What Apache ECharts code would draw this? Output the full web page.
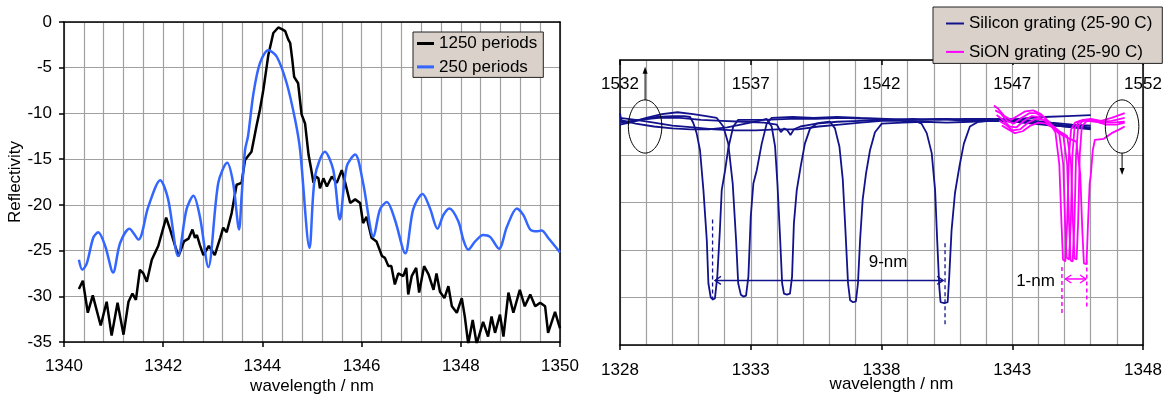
<!DOCTYPE html>
<html>
<head>
<meta charset="utf-8">
<script src="https://cdn.jsdelivr.net/npm/echarts@6/dist/echarts.min.js"></script>
<style>
html,body{margin:0;padding:0;background:#fff;}
#main{width:1166px;height:396px;}
</style>
</head>
<body>
<div id="main"></div>
<script>
// ---- left plot : reflectivity (dB) vs wavelength (nm) ----
var refl1250 = [[1340.30,-29.2],[1340.38,-28.3],[1340.48,-31.8],[1340.58,-29.9],[1340.74,-33.2],[1340.86,-30.6],[1340.96,-34.3],[1341.08,-30.7],[1341.20,-34.2],[1341.30,-30.6],[1341.38,-29.7],[1341.45,-30.4],[1341.53,-27.1],[1341.60,-27.5],[1341.67,-28.4],[1341.77,-26.0],[1341.90,-24.5],[1342.06,-21.4],[1342.14,-22.7],[1342.24,-24.5],[1342.31,-25.6],[1342.42,-24.0],[1342.51,-23.7],[1342.59,-22.7],[1342.64,-23.6],[1342.68,-23.3],[1342.74,-24.4],[1342.81,-25.5],[1342.92,-24.5],[1343.04,-25.5],[1343.15,-23.6],[1343.21,-22.5],[1343.28,-23.0],[1343.38,-20.9],[1343.48,-17.8],[1343.58,-17.6],[1343.65,-15.1],[1343.72,-14.6],[1343.78,-14.2],[1343.88,-11.4],[1343.95,-9.6],[1344.02,-7.4],[1344.12,-3.6],[1344.22,-1.2],[1344.32,-0.6],[1344.40,-0.8],[1344.46,-1.0],[1344.52,-1.9],[1344.56,-2.3],[1344.60,-4.0],[1344.64,-6.0],[1344.72,-6.7],[1344.79,-10.1],[1344.86,-11.1],[1344.93,-14.5],[1344.98,-16.0],[1345.03,-17.6],[1345.08,-16.9],[1345.13,-17.1],[1345.16,-18.2],[1345.23,-17.1],[1345.30,-18.0],[1345.40,-16.9],[1345.50,-17.6],[1345.60,-16.2],[1345.67,-17.6],[1345.77,-19.8],[1345.87,-19.4],[1345.97,-19.8],[1346.03,-22.0],[1346.10,-21.3],[1346.20,-23.6],[1346.30,-24.0],[1346.41,-25.6],[1346.47,-25.8],[1346.54,-26.7],[1346.60,-26.7],[1346.67,-28.7],[1346.74,-27.5],[1346.84,-27.8],[1346.90,-26.9],[1346.94,-29.8],[1347.01,-27.8],[1347.10,-26.9],[1347.16,-29.6],[1347.26,-26.7],[1347.35,-27.6],[1347.45,-29.3],[1347.51,-27.5],[1347.58,-29.5],[1347.67,-30.2],[1347.75,-28.9],[1347.82,-31.1],[1347.92,-31.8],[1348.02,-30.2],[1348.08,-32.2],[1348.15,-35.2],[1348.24,-32.6],[1348.32,-35.2],[1348.45,-32.8],[1348.55,-34.4],[1348.62,-32.2],[1348.69,-34.0],[1348.79,-32.0],[1348.86,-34.4],[1348.96,-29.6],[1349.06,-31.8],[1349.19,-29.3],[1349.29,-31.1],[1349.40,-29.8],[1349.50,-31.1],[1349.60,-30.7],[1349.70,-31.1],[1349.76,-34.0],[1349.90,-31.7],[1350.00,-33.5]];

var refl250 = [[1340.30,-26.0],[1340.37,-27.1],[1340.46,-26.4],[1340.59,-23.6],[1340.69,-23.0],[1340.83,-24.5],[1340.99,-27.4],[1341.13,-24.2],[1341.32,-22.6],[1341.50,-23.8],[1341.70,-20.2],[1341.94,-17.3],[1342.10,-19.4],[1342.30,-25.6],[1342.47,-20.5],[1342.61,-19.0],[1342.74,-21.3],[1342.91,-26.8],[1343.11,-17.6],[1343.29,-15.4],[1343.41,-17.6],[1343.53,-22.7],[1343.58,-19.1],[1343.65,-14.0],[1343.71,-12.5],[1343.82,-7.8],[1343.95,-4.5],[1344.12,-3.1],[1344.29,-3.8],[1344.49,-6.7],[1344.66,-10.7],[1344.76,-14.0],[1344.95,-24.7],[1345.06,-16.9],[1345.26,-14.2],[1345.43,-16.2],[1345.56,-21.6],[1345.70,-15.8],[1345.87,-14.5],[1346.03,-17.6],[1346.24,-23.5],[1346.37,-20.5],[1346.51,-19.7],[1346.67,-21.6],[1346.88,-25.3],[1347.04,-20.5],[1347.23,-18.8],[1347.38,-20.4],[1347.53,-22.6],[1347.65,-21.1],[1347.77,-20.4],[1347.95,-21.8],[1348.05,-23.8],[1348.15,-24.9],[1348.29,-24.0],[1348.45,-23.3],[1348.59,-23.5],[1348.77,-24.8],[1348.93,-22.4],[1349.13,-20.4],[1349.26,-21.1],[1349.40,-22.7],[1349.53,-22.9],[1349.63,-22.8],[1349.76,-23.6],[1350.00,-25.2]];

// ---- right plot : transmission (arb. dB) ----
// silicon grating, bottom axis (nm), one trace per temperature
var siCurve1 = [[1328.00,-5.6],[1328.05,-6.4],[1328.3,-6.6],[1328.8,-6.3],[1329.4,-6.0],[1330.0,-5.9],[1330.45,-5.9],[1330.68,-6.0],[1330.80,-6.6],[1330.93,-7.7],[1331.06,-9.5],[1331.19,-13.7],[1331.32,-19.0],[1331.38,-23.5],[1331.47,-25.0],[1331.55,-25.2],[1331.63,-25.1],[1331.72,-22.8],[1331.82,-17.9],[1331.89,-13.7],[1332.02,-11.6],[1332.14,-9.3],[1332.33,-7.0],[1332.52,-6.3],[1333.5,-6.3],[1334.5,-6.2],[1335.5,-6.2],[1336.5,-6.1],[1337.5,-6.2],[1338.5,-6.3],[1339.5,-6.3],[1340.5,-6.2],[1341.5,-6.3],[1342.5,-6.2],[1343.5,-6.3],[1344.5,-6.6],[1345.3,-6.8],[1346.0,-6.9]];
var siCurve2 = [[1328.0,-6.8],[1328.5,-6.5],[1329.0,-6.1],[1329.6,-5.7],[1330.2,-5.5],[1330.8,-5.7],[1331.3,-5.9],[1331.70,-6.1],[1331.95,-7.0],[1332.14,-8.8],[1332.31,-13.0],[1332.44,-19.0],[1332.52,-23.5],[1332.62,-24.7],[1332.72,-24.9],[1332.82,-24.8],[1332.91,-22.8],[1333.00,-16.5],[1333.10,-13.0],[1333.23,-11.6],[1333.42,-8.8],[1333.61,-6.7],[1333.80,-6.1],[1334.6,-6.0],[1335.4,-6.1],[1336.3,-6.0],[1337.2,-6.1],[1338.2,-6.2],[1339.2,-6.3],[1340.2,-6.2],[1341.2,-6.4],[1342.2,-6.3],[1343.2,-6.2],[1344.2,-6.0],[1345.1,-5.9],[1346.0,-5.8]];
var siCurve3 = [[1328.0,-6.3],[1328.6,-6.7],[1329.3,-7.0],[1330.0,-7.2],[1330.7,-7.3],[1331.4,-7.3],[1332.1,-7.1],[1332.8,-6.7],[1333.3,-6.4],[1333.61,-6.2],[1333.80,-7.0],[1333.93,-9.1],[1334.02,-13.0],[1334.12,-18.6],[1334.20,-23.5],[1334.27,-24.6],[1334.38,-24.7],[1334.50,-24.6],[1334.58,-22.8],[1334.65,-17.2],[1334.76,-13.7],[1334.91,-11.2],[1335.07,-8.8],[1335.27,-7.2],[1335.52,-6.7],[1336.3,-6.5],[1337.2,-6.4],[1338.2,-6.3],[1339.2,-6.2],[1340.2,-6.3],[1341.2,-6.2],[1342.2,-6.2],[1343.2,-6.4],[1344.2,-6.6],[1345.1,-6.9],[1346.0,-7.1]];
var siCurve4 = [[1328.0,-6.6],[1328.7,-6.3],[1329.5,-6.1],[1330.3,-6.1],[1331.1,-6.3],[1331.9,-6.4],[1332.7,-6.5],[1333.5,-6.6],[1334.0,-6.8],[1334.15,-7.6],[1334.28,-7.2],[1334.4,-7.4],[1334.52,-7.9],[1334.65,-7.3],[1334.9,-7.0],[1335.3,-6.8],[1335.7,-6.6],[1336.03,-6.5],[1336.22,-7.2],[1336.39,-9.1],[1336.52,-12.6],[1336.62,-17.9],[1336.72,-23.5],[1336.80,-25.3],[1336.91,-25.5],[1337.02,-25.4],[1337.10,-23.5],[1337.18,-19.0],[1337.28,-14.7],[1337.41,-11.9],[1337.56,-9.5],[1337.75,-7.6],[1338.01,-6.7],[1338.8,-6.6],[1339.6,-6.5],[1340.5,-6.6],[1341.4,-6.5],[1342.3,-6.4],[1343.2,-6.5],[1344.1,-6.7],[1345.0,-7.0],[1346.0,-7.3]];
var siCurve5 = [[1328.0,-6.1],[1328.6,-6.3],[1329.3,-6.6],[1330.0,-6.9],[1330.8,-7.1],[1331.6,-7.3],[1332.4,-7.4],[1333.2,-7.4],[1334.0,-7.3],[1334.8,-7.3],[1335.6,-7.0],[1336.4,-6.8],[1337.2,-6.6],[1338.0,-6.4],[1338.7,-6.4],[1339.35,-6.5],[1339.53,-6.7],[1339.73,-7.7],[1339.92,-9.8],[1340.05,-13.7],[1340.13,-19.0],[1340.21,-23.9],[1340.26,-25.5],[1340.40,-25.6],[1340.53,-25.5],[1340.59,-22.8],[1340.68,-17.9],[1340.81,-14.0],[1340.98,-11.2],[1341.15,-8.8],[1341.38,-7.0],[1341.70,-6.5],[1342.4,-6.3],[1343.1,-6.5],[1343.8,-6.7],[1344.5,-6.9],[1345.2,-7.0],[1346.0,-7.2]];

// SiON grating, top axis (nm)
var sionCurve1 = [[1546.30,-4.8],[1546.45,-5.1],[1546.7,-5.9],[1546.95,-6.3],[1547.2,-5.9],[1547.5,-5.4],[1547.8,-5.3],[1548.1,-5.7],[1548.4,-6.5],[1548.65,-7.6],[1548.8,-11.0],[1548.88,-17.0],[1548.94,-21.0],[1549.03,-21.2],[1549.10,-17.0],[1549.17,-10.0],[1549.25,-7.3],[1549.4,-6.6],[1549.7,-6.3],[1550.0,-6.2],[1550.4,-6.4],[1550.8,-6.1],[1551.3,-5.6]];
var sionCurve2 = [[1546.35,-5.3],[1546.55,-5.6],[1546.8,-6.4],[1547.05,-6.7],[1547.35,-6.1],[1547.65,-5.6],[1547.9,-5.6],[1548.2,-6.0],[1548.5,-6.9],[1548.8,-7.8],[1548.95,-11.0],[1549.02,-17.0],[1549.08,-20.8],[1549.17,-21.0],[1549.24,-17.0],[1549.30,-10.0],[1549.38,-7.2],[1549.55,-6.5],[1549.9,-6.3],[1550.3,-6.5],[1550.8,-6.4],[1551.3,-6.1]];
var sionCurve3 = [[1546.4,-5.8],[1546.6,-6.2],[1546.9,-7.0],[1547.15,-7.1],[1547.45,-6.4],[1547.75,-5.9],[1548.0,-6.0],[1548.3,-6.5],[1548.6,-7.2],[1548.95,-7.9],[1549.10,-11.0],[1549.17,-17.0],[1549.23,-21.1],[1549.31,-21.2],[1549.38,-17.0],[1549.44,-10.0],[1549.52,-7.0],[1549.7,-6.4],[1550.0,-6.3],[1550.4,-6.6],[1550.8,-6.6],[1551.3,-6.5]];
var sionCurve4 = [[1546.5,-6.4],[1546.75,-6.8],[1547.0,-7.4],[1547.3,-7.3],[1547.6,-6.6],[1547.9,-6.2],[1548.2,-6.3],[1548.5,-6.8],[1548.8,-7.5],[1549.1,-8.0],[1549.25,-11.0],[1549.32,-17.0],[1549.38,-20.9],[1549.46,-21.0],[1549.52,-17.0],[1549.58,-10.0],[1549.66,-7.0],[1549.85,-6.4],[1550.2,-6.5],[1550.6,-6.8],[1551.0,-6.8],[1551.3,-6.6]];
var sionCurve5 = [[1546.6,-6.9],[1546.85,-7.3],[1547.1,-7.7],[1547.4,-7.5],[1547.7,-6.9],[1548.0,-6.6],[1548.3,-6.7],[1548.6,-7.2],[1548.9,-7.9],[1549.2,-8.3],[1549.45,-8.6],[1549.60,-12.0],[1549.68,-18.0],[1549.74,-21.4],[1549.84,-21.5],[1549.90,-17.0],[1549.96,-13.0],[1550.00,-12.2],[1550.08,-9.5],[1550.16,-8.4],[1550.5,-8.3],[1550.8,-7.7],[1551.1,-7.3],[1551.3,-7.0]];

var siName = 'Silicon grating (25-90 C)';
var sionName = 'SiON grating (25-90 C)';
var siColor = '#12128c';
var sionColor = '#ff00ff';
var FONT = '"Liberation Sans", Arial, sans-serif';
var GRIDC = '#a0a0a0';

var chart = echarts.init(document.getElementById('main'), null, {renderer: 'canvas'});

function lineSeries(name, data, xi, yi, color, width, smooth) {
    return {
        type: 'line', name: name, data: data,
        xAxisIndex: xi, yAxisIndex: yi,
        showSymbol: false, symbol: 'none', smooth: smooth || false,
        lineStyle: {color: color, width: width},
        itemStyle: {color: color},
        silent: true, animation: false, clip: true
    };
}

function frameAxis(pos, grid, min, max) {
    return {
        type: 'value', position: pos, gridIndex: grid, min: min, max: max,
        axisLine: {show: true, lineStyle: {color: '#000', width: 1.5}},
        axisTick: {show: false}, axisLabel: {show: false}, splitLine: {show: false}
    };
}

function plain(v) { return String(v); }   // no thousands separator

var labelStyle = {color: '#000', fontSize: 17, fontFamily: FONT};

var series = [
    lineSeries('1250 periods', refl1250, 0, 0, '#000000', 2.5),
    lineSeries('250 periods', refl250, 0, 0, '#3366ff', 2.5, 0.3)
];
[siCurve1, siCurve2, siCurve3, siCurve4, siCurve5].forEach(function (c) {
    series.push(lineSeries(siName, c, 1, 1, siColor, 1.8));
});
[sionCurve1, sionCurve2, sionCurve3, sionCurve4, sionCurve5].forEach(function (c) {
    series.push(lineSeries(sionName, c, 2, 1, sionColor, 1.8));
});

var option = {
    animation: false,
    backgroundColor: '#fff',
    textStyle: {fontFamily: FONT},
    grid: [
        {left: 64, top: 22, width: 496, height: 320, outerBoundsMode: 'none', containLabel: false},
        {left: 620, top: 60, width: 523, height: 285, outerBoundsMode: 'none', containLabel: false}
    ],
    legend: [
        {
            data: ['1250 periods', '250 periods'],
            left: 413, top: 32, orient: 'vertical',
            backgroundColor: '#d9d1ca', borderColor: '#222', borderWidth: 1,
            padding: [3, 6, 2, 4], itemGap: 6.4,
            icon: 'rect', itemWidth: 17, itemHeight: 3,
            itemStyle: {borderWidth: 0},
            textStyle: labelStyle, selectedMode: false
        },
        {
            data: [siName, sionName],
            left: 933, top: 7, orient: 'vertical',
            backgroundColor: '#d9d1ca', borderColor: '#222', borderWidth: 1,
            padding: [8, 10, 3, 13], itemGap: 11.4,
            icon: 'rect', itemWidth: 18, itemHeight: 2,
            itemStyle: {borderWidth: 0},
            textStyle: labelStyle, selectedMode: false
        }
    ],
    xAxis: [
        {
            type: 'value', gridIndex: 0, min: 1340, max: 1350, interval: 2,
            name: 'wavelength / nm', nameLocation: 'middle', nameGap: 36,
            nameMoveOverlap: false,
            nameTextStyle: labelStyle,
            axisLine: {show: true, onZero: false, lineStyle: {color: '#000', width: 1.5}},
            axisTick: {show: true, length: 5, lineStyle: {color: '#000', width: 1.5}},
            axisLabel: {margin: 16, color: '#000', fontSize: 17, fontFamily: FONT, formatter: plain},
            splitLine: {show: true, lineStyle: {color: GRIDC, width: 1.2}},
            minorTick: {show: false, splitNumber: 5},
            minorSplitLine: {show: true, lineStyle: {color: GRIDC, width: 1.2}}
        },
        {
            type: 'value', gridIndex: 1, min: 1328, max: 1348, interval: 5,
            name: 'wavelength / nm', nameLocation: 'middle', nameGap: 31,
            nameMoveOverlap: false,
            nameTextStyle: {color: '#000', fontSize: 17, fontFamily: FONT, padding: [0, 0, 0, 20]},
            axisLine: {show: true, onZero: false, lineStyle: {color: '#000', width: 1.5}},
            axisTick: {show: true, length: 5, lineStyle: {color: '#000', width: 1.5}},
            axisLabel: {margin: 17, color: '#000', fontSize: 17, fontFamily: FONT, formatter: plain},
            splitLine: {show: true, lineStyle: {color: GRIDC, width: 1.2}},
            minorTick: {show: false, splitNumber: 5},
            minorSplitLine: {show: true, lineStyle: {color: GRIDC, width: 1.2}}
        },
        {
            type: 'value', gridIndex: 1, position: 'top', min: 1532, max: 1552, interval: 5,
            axisLine: {show: true, onZero: false, lineStyle: {color: '#000', width: 1.5}},
            axisTick: {show: true, inside: true, length: 5, lineStyle: {color: '#000', width: 1.5}},
            axisLabel: {inside: true, margin: 16, color: '#000', fontSize: 17, fontFamily: FONT, formatter: plain},
            splitLine: {show: false}
        },
        frameAxis('top', 0, 1340, 1350)
    ],
    yAxis: [
        {
            type: 'value', gridIndex: 0, min: -35, max: 0, interval: 5,
            name: 'Reflectivity', nameLocation: 'middle', nameGap: 33, nameRotate: 90,
            nameTextStyle: labelStyle,
            axisLine: {show: true, onZero: false, lineStyle: {color: '#000', width: 1.5}},
            axisTick: {show: true, length: 5, lineStyle: {color: '#000', width: 1.5}},
            axisLabel: {margin: 12, color: '#000', fontSize: 17, fontFamily: FONT},
            splitLine: {show: true, lineStyle: {color: GRIDC, width: 1.2}}
        },
        {
            type: 'value', gridIndex: 1, min: -30, max: 0, interval: 5,
            axisLine: {show: true, onZero: false, lineStyle: {color: '#000', width: 1.5}},
            axisTick: {show: false}, axisLabel: {show: false},
            splitLine: {show: true, lineStyle: {color: GRIDC, width: 1.2}}
        },
        frameAxis('right', 0, -35, 0),
        frameAxis('right', 1, -30, 0)
    ],
    series: series
};

chart.setOption(option);

// ---- annotations on the right plot, placed in data coordinates ----
function px(p) { return chart.convertToPixel({xAxisIndex: 1, yAxisIndex: 1}, p); }

function seg(a, b, color, width, dash) {
    var p = px(a), q = px(b);
    return {type: 'line', z: 50, shape: {x1: p[0], y1: p[1], x2: q[0], y2: q[1]},
        style: {stroke: color, lineWidth: width, lineDash: dash || null}};
}
function openHead(tip, dir, color) {   // dir: -1 points left, 1 points right
    var p = px(tip);
    return {type: 'polyline', z: 50, shape: {points: [[p[0] - dir * 6, p[1] - 4], [p[0], p[1]], [p[0] - dir * 6, p[1] + 4]]},
        style: {stroke: color, lineWidth: 1.3, fill: null}};
}
function solidHead(tip, dir) {          // dir: -1 up, 1 down
    var p = px(tip);
    return {type: 'polygon', z: 50, shape: {points: [[p[0] - 2.5, p[1] - dir * 7], [p[0], p[1]], [p[0] + 2.5, p[1] - dir * 7]]},
        style: {fill: '#000'}};
}
function ellipse(c, hw, hh) {
    var p = px(c), e = px([c[0] + hw, c[1] - hh]);
    return {type: 'ellipse', z: 50, shape: {cx: p[0], cy: p[1], rx: e[0] - p[0], ry: e[1] - p[1]},
        style: {stroke: '#000', lineWidth: 1, fill: null}};
}
function label(at, text) {
    var p = px(at);
    return {type: 'text', z: 50, x: p[0], y: p[1],
        style: {text: text, fill: '#000', fontSize: 17, fontFamily: FONT, align: 'center', verticalAlign: 'middle'}};
}

var g = [
    ellipse([1328.96, -7.0], 0.64, 2.8),
    seg([1328.96, -4.2], [1328.96, -1.2], '#000', 1),
    solidHead([1328.96, -0.7], -1),
    ellipse([1347.20, -7.0], 0.64, 2.8),
    seg([1347.20, -9.8], [1347.20, -11.6], '#000', 1),
    solidHead([1347.20, -12.1], 1),

    seg([1331.54, -16.8], [1331.54, -25.3], siColor, 1.3, [4, 3]),
    seg([1340.43, -19.3], [1340.43, -28.0], siColor, 1.3, [4, 3]),
    seg([1331.63, -23.2], [1340.36, -23.2], siColor, 1.5),
    openHead([1331.63, -23.2], -1, siColor),
    openHead([1340.36, -23.2], 1, siColor),
    label([1338.25, -21.3], '9-nm'),

    seg([1344.90, -21.8], [1344.90, -26.8], sionColor, 1.5, [4, 3]),
    seg([1345.85, -21.1], [1345.85, -26.1], sionColor, 1.5, [4, 3]),
    seg([1345.03, -23.05], [1345.82, -23.05], sionColor, 1.5),
    openHead([1345.03, -23.05], -1, sionColor),
    openHead([1345.82, -23.05], 1, sionColor),
    label([1343.89, -23.3], '1-nm')
];

chart.setOption({graphic: g});
</script>
</body>
</html>
